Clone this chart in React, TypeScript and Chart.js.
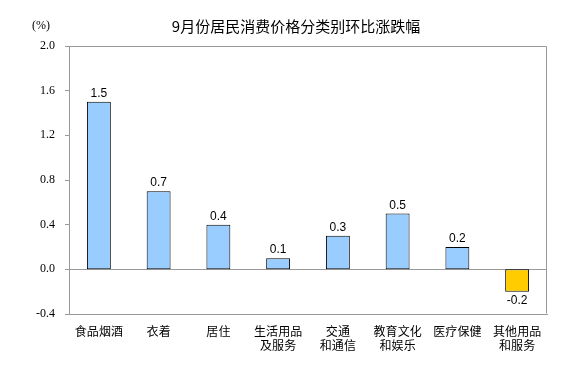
import React, { useEffect, useRef } from "react";
import { Chart, registerables } from "chart.js";

Chart.register(...registerables);

const TITLE = "9月份居民消费价格分类别环比涨跌幅";
const UNIT = "(%)";
const categories: (string | string[])[] = [
  "食品烟酒",
  "衣着",
  "居住",
  ["生活用品", "及服务"],
  ["交通", "和通信"],
  ["教育文化", "和娱乐"],
  "医疗保健",
  ["其他用品", "和服务"],
];
const values = [1.5, 0.7, 0.4, 0.1, 0.3, 0.5, 0.2, -0.2];
const Y_MIN = -0.4;
const Y_MAX = 2.0;
const Y_STEP = 0.4;

const POS_COLOR = "#99CCFF";
const NEG_COLOR = "#FFCC00";
const AXIS_COLOR = "#999999";
const SERIF = "'Liberation Serif', 'Times New Roman', serif";

const CHART_LEFT = 69;
const CHART_RIGHT = 547;
const CHART_TOP = 46;
const CHART_BOTTOM = 314;
const W = 580;
const H = 366;

export default function App() {
  const ref = useRef<HTMLCanvasElement | null>(null);
  useEffect(() => {
    document.body.style.margin = "0";
    const canvas = ref.current!;
    const decor = {
      id: "decor",
      beforeDraw(chart: any) {
        const c = chart.ctx;
        c.save();
        c.fillStyle = "#ffffff";
        c.fillRect(0, 0, chart.width, chart.height);
        c.restore();
      },
      afterDatasetsDraw(chart: any) {
        const c = chart.ctx;
        const a = chart.chartArea;
        c.save();
        c.strokeStyle = AXIS_COLOR;
        c.lineWidth = 1;
        c.beginPath();
        c.moveTo(Math.round(a.left) + 0.5, Math.round(a.top) + 0.5);
        c.lineTo(Math.round(a.right) - 0.5, Math.round(a.top) + 0.5);
        c.lineTo(Math.round(a.right) - 0.5, Math.round(a.bottom) - 0.5);
        c.stroke();
        c.fillStyle = "#000";
        c.font = "15px 'Noto Sans CJK SC', sans-serif";
        c.textAlign = "center";
        c.textBaseline = "middle";
        c.fillText(TITLE, 296, 26);
        c.font = "12px " + SERIF;
        c.textAlign = "left";
        c.fillText(UNIT, 32, 26);
        const meta = chart.getDatasetMeta(0);
        c.font = "12px 'Liberation Sans', Arial, sans-serif";
        c.textAlign = "center";
        meta.data.forEach((bar: any, i: number) => {
          const v = values[i];
          const txt = v.toFixed(1);
          if (v >= 0) {
            c.textBaseline = "bottom";
            c.fillText(txt, bar.x, bar.y - 2);
          } else {
            c.textBaseline = "top";
            c.fillText(txt, bar.x, bar.y + 3);
          }
        });
        c.restore();
      },
    };
    const chart = new Chart(canvas, {
      type: "bar",
      data: {
        labels: categories,
        datasets: [
          {
            data: values,
            backgroundColor: values.map((v) => (v >= 0 ? POS_COLOR : NEG_COLOR)),
            borderColor: "#000000",
            borderWidth: 1,
            borderSkipped: false,
            barPercentage: 0.8,
            categoryPercentage: 0.5,
          },
        ],
      },
      options: {
        responsive: false,
        animation: false,
        layout: {
          padding: { left: 0, right: W - CHART_RIGHT, top: CHART_TOP, bottom: 0 },
        },
        plugins: {
          legend: { display: false },
          title: { display: false },
          tooltip: { enabled: false },
        },
        scales: {
          x: {
            grid: { display: false, drawTicks: false },
            border: { display: true, color: AXIS_COLOR, width: 1 },
            ticks: {
              color: "#000",
              font: { family: "'Noto Sans CJK SC', sans-serif", size: 12, lineHeight: 1.2 },
              padding: 10,
              maxRotation: 0,
              autoSkip: false,
            },
            afterFit(scale: any) {
              scale.height = H - CHART_BOTTOM;
            },
          },
          y: {
            min: Y_MIN,
            max: Y_MAX,
            grid: {
              display: true,
              drawOnChartArea: true,
              color: (ctx: any) =>
                ctx.tick && Math.abs(ctx.tick.value) < 1e-9 ? AXIS_COLOR : "rgba(0,0,0,0)",
              tickColor: AXIS_COLOR,
              tickLength: 4,
              lineWidth: 1,
            },
            border: { display: true, color: AXIS_COLOR, width: 1 },
            ticks: {
              stepSize: Y_STEP,
              color: "#000",
              font: { family: SERIF, size: 12 },
              padding: 10,
              callback: (v: any) => (Math.abs(Number(v)) < 1e-9 ? "0.0" : Number(v).toFixed(1)),
            },
            afterFit(scale: any) {
              scale.width = CHART_LEFT;
            },
          },
        },
      },
      plugins: [decor],
    });
    return () => chart.destroy();
  }, []);
  return (
    <div style={{ position: "absolute", left: 0, top: 0, width: W, height: H }}>
      <canvas ref={ref} width={W} height={H} style={{ width: W, height: H }} />
    </div>
  );
}
